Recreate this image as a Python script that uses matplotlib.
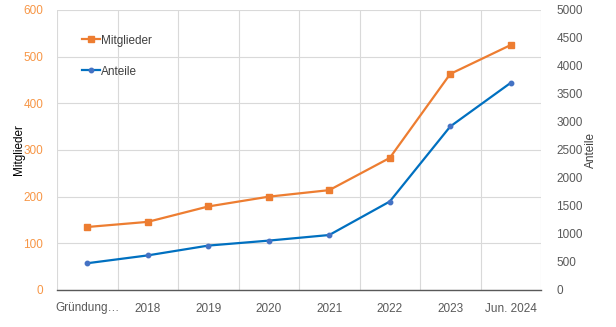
import matplotlib
matplotlib.use("Agg")
import matplotlib.pyplot as plt
import numpy as np

categories = ["Gründung…", "2018", "2019", "2020", "2021", "2022", "2023", "Jun. 2024"]
mitglieder = [135, 146, 179, 200, 214, 283, 463, 525]
anteile = [478, 618, 793, 882, 982, 1580, 2920, 3700]

plt.rcParams['font.family'] = ['Liberation Sans', 'DejaVu Sans']

fig = plt.figure(figsize=(6.16, 3.27), dpi=100)
ax = fig.add_axes([57/616, 1-290/327, 484/616, 280/327])
ax2 = ax.twinx()

x = np.arange(len(categories))
orange = "#ED7D31"
blue_line = "#0070C0"
blue_marker = "#4472C4"

l1, = ax.plot(x, mitglieder, color=orange, lw=1.6, marker='s', markersize=4.5,
              markerfacecolor=orange, markeredgecolor=orange, label="Mitglieder", zorder=3)
l2, = ax2.plot(x, anteile, color=blue_line, lw=1.6, marker='o', markersize=3.2,
               markerfacecolor=blue_marker, markeredgecolor=blue_marker, label="Anteile", zorder=3)

ax.set_xlim(-0.5, len(categories) - 0.5)
ax.set_ylim(0, 600)
ax2.set_ylim(0, 5000)
ax.set_yticks(np.arange(0, 601, 100))
ax2.set_yticks(np.arange(0, 5001, 500))
ax.set_xticks(x)
ax.set_xticklabels(categories)
ax.set_xticks(np.arange(-0.5, len(categories), 1.0), minor=True)

grid_c = "#D9D9D9"
ax.grid(True, axis='y', color=grid_c, lw=0.8)
ax.grid(True, axis='x', which='minor', color=grid_c, lw=0.8)
ax.grid(False, axis='x', which='major')
ax.set_axisbelow(True)

for a in (ax, ax2):
    for s in ('top', 'left', 'right', 'bottom'):
        a.spines[s].set_visible(False)
ax.spines['bottom'].set_visible(True)
ax.spines['bottom'].set_color("#595959")
ax.spines['bottom'].set_linewidth(1.0)

ax.tick_params(axis='x', which='both', length=0, pad=9, labelsize=8.5, labelcolor="#595959")
ax.tick_params(axis='y', length=0, pad=10, labelsize=8.5, labelcolor="#F79646")
ax2.tick_params(axis='y', length=0, pad=11, labelsize=8.5, labelcolor="#595959")

ax.set_ylabel("Mitglieder", fontsize=8.5, color="#000000")
ax2.set_ylabel("Anteile", fontsize=8.5, color="#404040")
ax.yaxis.set_label_coords(-0.066, 0.5)
ax2.yaxis.set_label_coords(1.091, 0.5)

leg = ax.legend(handles=[l1, l2], loc='upper left', bbox_to_anchor=(0.03, 0.95),
                frameon=False, fontsize=8.5, labelspacing=1.6, handlelength=1.5,
                handletextpad=0.1, labelcolor="#404040")

fig.savefig("out.png", dpi=100)
